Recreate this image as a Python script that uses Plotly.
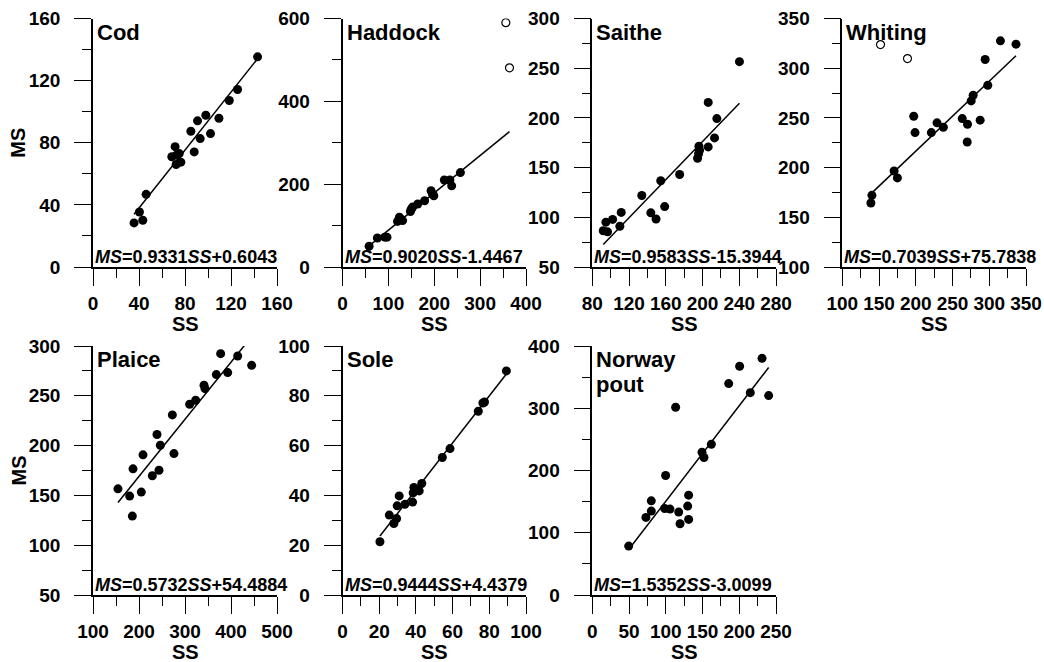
import plotly.graph_objects as go

# ---------------- data ----------------
species = ["Cod", "Haddock", "Saithe", "Whiting", "Plaice", "Sole", "Norway<br>pout"]
slopes = [0.9331, 0.9020, 0.9583, 0.7039, 0.5732, 0.9444, 1.5352]
intercepts = [0.6043, -1.4467, -15.3944, 75.7838, 54.4884, 4.4379, -3.0099]

cod_ss = [35.7, 40.4, 43.3, 46.2, 68.5, 71.4, 72.5, 75.0, 72.3, 76.4, 85.1, 88.0, 90.9, 93.2, 98.1, 102.2, 109.5, 118.5, 125.7, 143.1]
cod_ms = [28.4, 35.4, 30.1, 46.8, 71.0, 77.5, 72.0, 73.0, 66.0, 67.5, 87.4, 74.1, 94.1, 82.7, 97.7, 85.9, 95.8, 107.2, 114.3, 135.3]

haddock_ss = [58, 76, 92, 97, 120, 124, 127, 131, 148, 150, 153, 164, 179, 193, 196, 199, 222, 234, 238, 257]
haddock_ms = [50, 70, 72, 72, 110, 120, 116, 112, 134, 140, 145, 152, 160, 184, 176, 172, 210, 210, 196, 228]
haddock_out_ss = [356, 364]
haddock_out_ms = [590, 481]

saithe_ss = [91.9, 94.8, 96.6, 102.1, 110.0, 111.5, 133.9, 143.7, 149.4, 154.5, 158.8, 175.1, 194.6, 195.7, 196.1, 196.8, 206.2, 206.2, 213.1, 215.6, 240.2]
saithe_ms = [86.5, 95.1, 85.4, 97.9, 91.0, 104.9, 121.9, 104.5, 98.3, 136.8, 110.8, 143.1, 159.4, 163.9, 171.5, 167.4, 170.8, 215.6, 179.9, 199.3, 256.6]

whiting_ss = [138.9, 140.3, 170.5, 175.0, 197.2, 199.0, 221.2, 228.9, 237.5, 263.2, 270.4, 270.0, 275.4, 278.1, 287.6, 294.4, 298.0, 315.2, 336.4]
whiting_ms = [164.4, 172.1, 196.6, 189.6, 251.7, 235.2, 235.2, 245.0, 240.6, 249.3, 243.6, 225.8, 267.1, 272.8, 247.7, 308.7, 282.9, 327.5, 324.2]
whiting_out_ss = [152.0, 188.7]
whiting_out_ms = [323.8, 309.7]

plaice_ss = [154.3, 179.7, 185.5, 187.0, 205.0, 208.7, 229.0, 239.1, 243.5, 246.4, 272.5, 276.0, 310.1, 323.2, 341.3, 343.5, 368.1, 377.5, 392.8, 414.5, 444.9]
plaice_ms = [156.6, 149.3, 129.2, 176.7, 153.3, 190.7, 169.7, 211.1, 175.3, 200.4, 230.8, 192.0, 241.5, 245.5, 260.6, 257.2, 271.3, 292.3, 273.3, 290.0, 280.6]

sole_ss = [20.4, 25.5, 28.0, 29.5, 29.8, 30.9, 34.0, 38.2, 38.5, 38.9, 40.7, 41.8, 43.2, 54.4, 58.6, 74.0, 76.5, 77.4, 89.3]
sole_ms = [21.4, 32.1, 28.7, 30.7, 35.8, 39.8, 36.4, 37.3, 41.0, 43.2, 42.4, 41.8, 44.8, 55.2, 58.8, 73.8, 77.1, 77.5, 90.0]

npout_ss = [49.5, 73.0, 80.3, 80.3, 98.5, 99.8, 105.7, 113.4, 117.6, 119.4, 129.8, 131.1, 131.1, 149.3, 152.0, 162.0, 185.6, 200.5, 215.0, 231.0, 240.0]
npout_ms = [78.6, 124.6, 151.3, 134.8, 139.0, 192.0, 138.0, 301.6, 133.2, 114.4, 142.8, 160.4, 121.4, 229.4, 220.9, 242.2, 339.6, 367.4, 325.1, 380.2, 320.3]

x_ranges = [[0, 160], [0, 400], [80, 280], [100, 350], [100, 500], [0, 100], [0, 250]]
x_dticks = [40, 100, 40, 50, 100, 20, 50]
y_ranges = [[0, 160], [0, 600], [50, 300], [100, 350], [50, 300], [0, 100], [0, 400]]
y_dticks = [40, 200, 50, 50, 50, 20, 100]

filled = [(cod_ss, cod_ms), (haddock_ss, haddock_ms), (saithe_ss, saithe_ms), (whiting_ss, whiting_ms),
          (plaice_ss, plaice_ms), (sole_ss, sole_ms), (npout_ss, npout_ms)]
opened = {1: (haddock_out_ss, haddock_out_ms), 3: (whiting_out_ss, whiting_out_ms)}

# ---------------- layout geometry ----------------
W, H = 1044, 662
col_px = [(93, 277), (342.5, 526), (592.3, 776), (842.3, 1026)]
row_px = [(18.5, 267), (346, 595)]
positions = [(0, 0), (0, 1), (0, 2), (0, 3), (1, 0), (1, 1), (1, 2)]


def fx(px):
    return px / W


def fy(py):
    return 1 - py / H


FONT = "Liberation Sans, Arial, Helvetica, sans-serif"

fig = go.Figure()
layout = dict(width=W, height=H, margin=dict(l=0, r=0, t=0, b=0, pad=0, autoexpand=False),
              paper_bgcolor="white", plot_bgcolor="white", showlegend=False,
              font=dict(family=FONT, color="black"))
annotations = []

for i, (r, c) in enumerate(positions):
    n = "" if i == 0 else str(i + 1)
    xa, ya = "x" + n, "y" + n
    x0, x1 = col_px[c]
    yt, yb = row_px[r]
    xd, yd = x_dticks[i], y_dticks[i]
    axis_common = dict(showline=True, linecolor="black", linewidth=1.5, mirror=False, automargin=False,
                       showgrid=False, zeroline=False, ticks="outside", ticklen=17,
                       tickwidth=1, tickcolor="black",
                       tickfont=dict(family=FONT, size=19, color="black", weight="bold"))
    layout["xaxis" + n] = dict(domain=[fx(x0), fx(x1)], anchor=ya, range=x_ranges[i],
                               tick0=x_ranges[i][0], dtick=xd, ticklabelstandoff=1,
                               minor=dict(ticks="outside", ticklen=9, tickwidth=1, tickcolor="black",
                                          dtick=xd / 2, tick0=x_ranges[i][0], showgrid=False),
                               **axis_common)
    layout["yaxis" + n] = dict(domain=[fy(yb), fy(yt)], anchor=xa, range=y_ranges[i],
                               tick0=y_ranges[i][0], dtick=yd, ticklabelstandoff=10,
                               minor=dict(ticks="outside", ticklen=9, tickwidth=1, tickcolor="black",
                                          dtick=yd / 2, tick0=y_ranges[i][0], showgrid=False),
                               **axis_common)

    ss, ms = filled[i]
    all_ss = list(ss) + (list(opened[i][0]) if i in opened else [])
    lo, hi = min(all_ss), max(all_ss)
    fig.add_trace(go.Scatter(x=[lo, hi], y=[slopes[i] * lo + intercepts[i], slopes[i] * hi + intercepts[i]],
                             mode="lines", line=dict(color="black", width=1.5),
                             xaxis=xa, yaxis=ya, hoverinfo="skip"))
    fig.add_trace(go.Scatter(x=ss, y=ms, mode="markers",
                             marker=dict(color="black", size=9, line=dict(width=0)),
                             xaxis=xa, yaxis=ya))
    if i in opened:
        fig.add_trace(go.Scatter(x=opened[i][0], y=opened[i][1], mode="markers",
                                 marker=dict(color="white", size=8, line=dict(color="black", width=1.2)),
                                 xaxis=xa, yaxis=ya))

    # species name (one annotation per line for tight line spacing)
    for k, line in enumerate(species[i].split("<br>")):
        annotations.append(dict(text=line, xref=xa + " domain", yref=ya + " domain", x=0, y=1,
                                xanchor="left", yanchor="top", xshift=2, yshift=1 - 25 * k, showarrow=False,
                                align="left", font=dict(family=FONT, size=22, color="black", weight="bold")))
    # equation
    b = intercepts[i]
    eq = "<i>MS</i>=%.4f<i>SS</i>%s%.4f" % (slopes[i], "+" if b >= 0 else "-", abs(b))
    annotations.append(dict(text=eq, xref=xa + " domain", yref=ya + " domain", x=0, y=0,
                            xanchor="left", yanchor="bottom", xshift=0, yshift=-2, showarrow=False,
                            font=dict(family=FONT, size=18, color="black", weight="bold")))
    # x-axis title
    annotations.append(dict(text="SS", xref=xa + " domain", yref=ya + " domain", x=0.5, y=0,
                            xanchor="center", yanchor="middle", yshift=-57, showarrow=False,
                            font=dict(family=FONT, size=20, color="black", weight="bold")))

for r in range(2):
    yt, yb = row_px[r]
    annotations.append(dict(text="MS", xref="paper", yref="paper", x=fx(18), y=fy((yt + yb) / 2),
                            xanchor="center", yanchor="middle", textangle=-90, showarrow=False,
                            font=dict(family=FONT, size=20, color="black", weight="bold")))

layout["annotations"] = annotations
fig.update_layout(**layout)
# remove the default 8px page margin so the 1044x662 figure fills the window exactly
fig.write_html("out.html", config={"displayModeBar": False},
               post_script="document.body.style.margin='0';document.body.style.overflow='hidden';")
